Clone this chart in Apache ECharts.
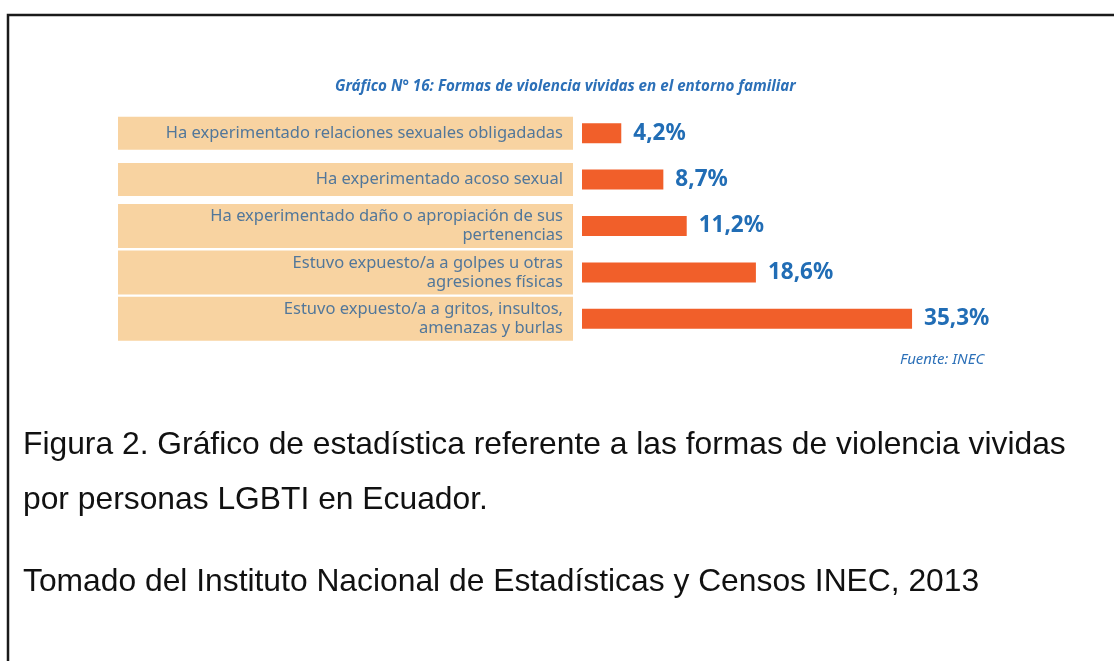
<!DOCTYPE html>
<html>
<head>
<meta charset="utf-8">
<script src="https://cdn.jsdelivr.net/npm/echarts@6/dist/echarts.min.js"></script>
<style>
  html, body { margin: 0; padding: 0; background: #fff; }
  #main { width: 1114px; height: 661px; }
</style>
</head>
<body>
<div id="main"></div>
<script>
// categorias y valores (%)
var categorias = [
  'Ha experimentado relaciones sexuales obligadadas',
  'Ha experimentado acoso sexual',
  'Ha experimentado daño o apropiación de sus\npertenencias',
  'Estuvo expuesto/a a golpes u otras\nagresiones físicas',
  'Estuvo expuesto/a a gritos, insultos,\namenazas y burlas'
];
var valores = [4.2, 8.7, 11.2, 18.6, 35.3];

var titulo = 'Gráfico N° 16: Formas de violencia vividas en el entorno familiar';
var fuente = 'Fuente: INEC';
var pie = [
  'Figura 2. Gráfico de estadística referente a las formas de violencia vividas',
  'por personas LGBTI en Ecuador.',
  'Tomado del Instituto Nacional de Estadísticas y Censos INEC, 2013'
];

var chart = echarts.init(document.getElementById('main'));

// una o dos lineas -> distinto relleno de la caja beige
var catData = categorias.map(function (c) {
  var dos = c.indexOf('\n') >= 0;
  return {
    value: c,
    textStyle: { padding: dos ? [3, 10, 3, 0] : [7, 10, 7, 0] }
  };
});

var captionFont = 31.8;

var option = {
  backgroundColor: '#ffffff',
  animation: false,
  title: {
    text: titulo,
    left: 330,
    top: 74,
    textStyle: {
      fontFamily: 'Noto Sans',
      fontSize: 15.2,
      fontWeight: 'bold',
      fontStyle: 'italic',
      color: '#2c70b8'
    }
  },
  grid: {
    left: 582,
    top: 110,
    width: 374,
    height: 232
  },
  xAxis: {
    type: 'value',
    min: 0,
    max: 40,
    show: false
  },
  yAxis: {
    type: 'category',
    inverse: true,
    data: catData,
    axisLine: { show: false },
    axisTick: { show: false },
    splitLine: { show: false },
    axisLabel: {
      margin: 9,
      width: 445,
      align: 'right',
      backgroundColor: '#f8d3a1',
      fontFamily: 'Noto Sans',
      fontSize: 16.5,
      lineHeight: 19,
      color: '#52779a'
    }
  },
  series: [{
    type: 'bar',
    data: valores,
    barWidth: 20,
    itemStyle: { color: '#f15f2a' },
    label: {
      show: true,
      position: 'right',
      distance: 12,
      fontFamily: 'Noto Sans',
      fontSize: 22.5,
      fontWeight: 'bold',
      color: '#216db5',
      formatter: function (p) {
        return String(p.value).replace('.', ',') + '%';
      }
    }
  }],
  graphic: [
    {
      type: 'rect',
      silent: true,
      shape: { x: 8, y: 15, width: 1200, height: 800 },
      style: { fill: 'none', stroke: '#1a1a1a', lineWidth: 2.5 }
    },
    {
      type: 'text',
      left: 900,
      top: 352,
      style: {
        text: fuente,
        fontFamily: 'Noto Sans',
        fontSize: 15,
        fontStyle: 'italic',
        fill: '#2c70b8'
      }
    },
    {
      type: 'text',
      x: 23,
      y: 445,
      style: {
        text: pie[0],
        fontFamily: 'Liberation Sans',
        fontSize: captionFont,
        fill: '#111',
        textVerticalAlign: 'middle'
      }
    },
    {
      type: 'text',
      x: 23,
      y: 500,
      style: {
        text: pie[1],
        fontFamily: 'Liberation Sans',
        fontSize: captionFont,
        fill: '#111',
        textVerticalAlign: 'middle'
      }
    },
    {
      type: 'text',
      x: 23,
      y: 582,
      style: {
        text: pie[2],
        fontFamily: 'Liberation Sans',
        fontSize: captionFont,
        fill: '#111',
        textVerticalAlign: 'middle'
      }
    }
  ]
};

chart.setOption(option);
</script>
</body>
</html>
